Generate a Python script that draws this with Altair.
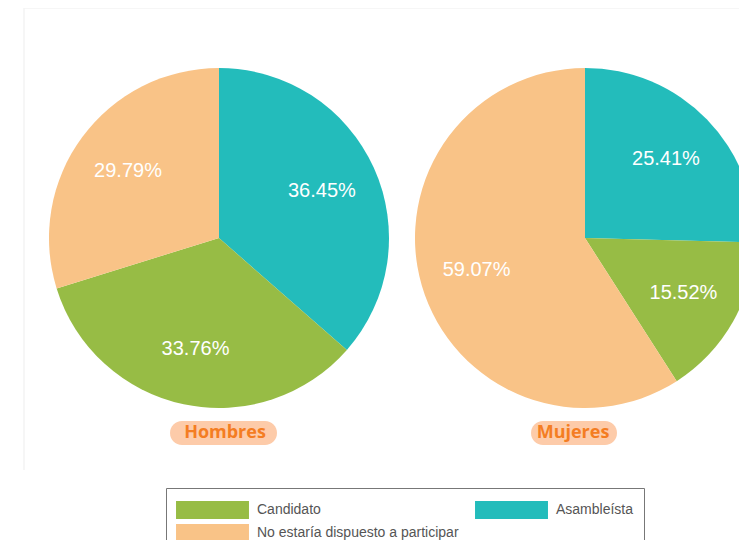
import altair as alt
import pandas as pd

groups = ["Hombres", "Mujeres"]
categories = ["Asambleísta", "Candidato", "No estaría dispuesto a participar"]
hombres_values = [36.45, 33.76, 29.79]
mujeres_values = [25.41, 15.52, 59.07]
legend_order = ["Candidato", "Asambleísta", "No estaría dispuesto a participar"]
colors = ["#97BC45", "#23BCBB", "#F9C387"]

rows = []
for g, vals in zip(groups, [hombres_values, mujeres_values]):
    for i, (c, v) in enumerate(zip(categories, vals)):
        rows.append({"group": g, "category": c, "value": v, "order": i})
df = pd.DataFrame(rows)
group_df = pd.DataFrame({"group": groups})

xscale = alt.Scale(type="point", domain=groups, range=[195, 561], padding=0)
tscale = alt.Scale(domain=[0, 1])

base = alt.Chart(df).transform_stack(
    stack="value", groupby=["group"], as_=["v0", "v1"], offset="normalize",
    sort=[alt.SortField("order", order="ascending")]
).transform_calculate(
    mid="(datum.v0 + datum.v1) / 2",
    label="format(datum.value, '.2f') + '%'"
)

arcs = base.mark_arc(outerRadius=170).encode(
    x=alt.X("group:N", scale=xscale, axis=None),
    y=alt.value(230),
    theta=alt.Theta("v0:Q", scale=tscale),
    theta2="v1:Q",
    color=alt.Color(
        "category:N",
        scale=alt.Scale(domain=legend_order, range=colors),
        legend=alt.Legend(
            orient="none", legendX=142, legendY=480, title=None, columns=2,
            direction="horizontal",
            symbolType="M-3.04,-0.75H3.04V0.75H-3.04Z", symbolSize=576,
            symbolStrokeWidth=0, symbolOffset=24.5, labelOffset=32.5,
            padding=10, strokeColor="#777777", fillColor="white",
            labelFont="Liberation Sans", labelFontSize=14, labelColor="#555555",
            rowPadding=2, columnPadding=16, symbolOpacity=1, labelLimit=0,
        ),
    ),
)

labels = base.mark_text(
    radius=113, font="Liberation Sans", fontSize=20, color="white",
    align="center", baseline="middle"
).encode(
    x=alt.X("group:N", scale=xscale, axis=None),
    y=alt.value(230),
    theta=alt.Theta("mid:Q", scale=tscale),
    text="label:N",
)

def pill(name, w, off):
    return alt.Chart(group_df).transform_filter(
        alt.datum.group == name
    ).mark_rect(width=w, height=24, cornerRadius=12, color="#FDCBA9").encode(
        x=alt.X("group:N", scale=xscale, axis=None),
        y=alt.value(425),
        xOffset=alt.value(off),
    )

def glabel(name, dx):
    return alt.Chart(group_df).transform_filter(
        alt.datum.group == name
    ).mark_text(
        font="Open Sans", fontWeight="bold", fontSize=18, color="#F47D22",
        align="center", baseline="middle", dx=dx
    ).encode(
        x=alt.X("group:N", scale=xscale, axis=None),
        y=alt.value(425),
        text="group:N",
    )

frame_color = "#f3f3f3"
frame_left = alt.Chart(group_df).mark_rule(color=frame_color).encode(
    x=alt.value(0), y=alt.value(0), y2=alt.value(462))
frame_top = alt.Chart(group_df).mark_rule(color=frame_color).encode(
    x=alt.value(0), x2=alt.value(800), y=alt.value(0))

chart = alt.layer(
    frame_left, frame_top,
    arcs, labels,
    pill("Hombres", 107, 4.5), pill("Mujeres", 86, -11),
    glabel("Hombres", 6), glabel("Mujeres", -12),
).properties(
    width=715, height=462,
    padding={"left": 16, "top": 0, "right": 0, "bottom": 70},
    autosize="none",
).configure_view(stroke=None)

chart.save("out.html", embed_options={"renderer": "svg", "actions": False})
